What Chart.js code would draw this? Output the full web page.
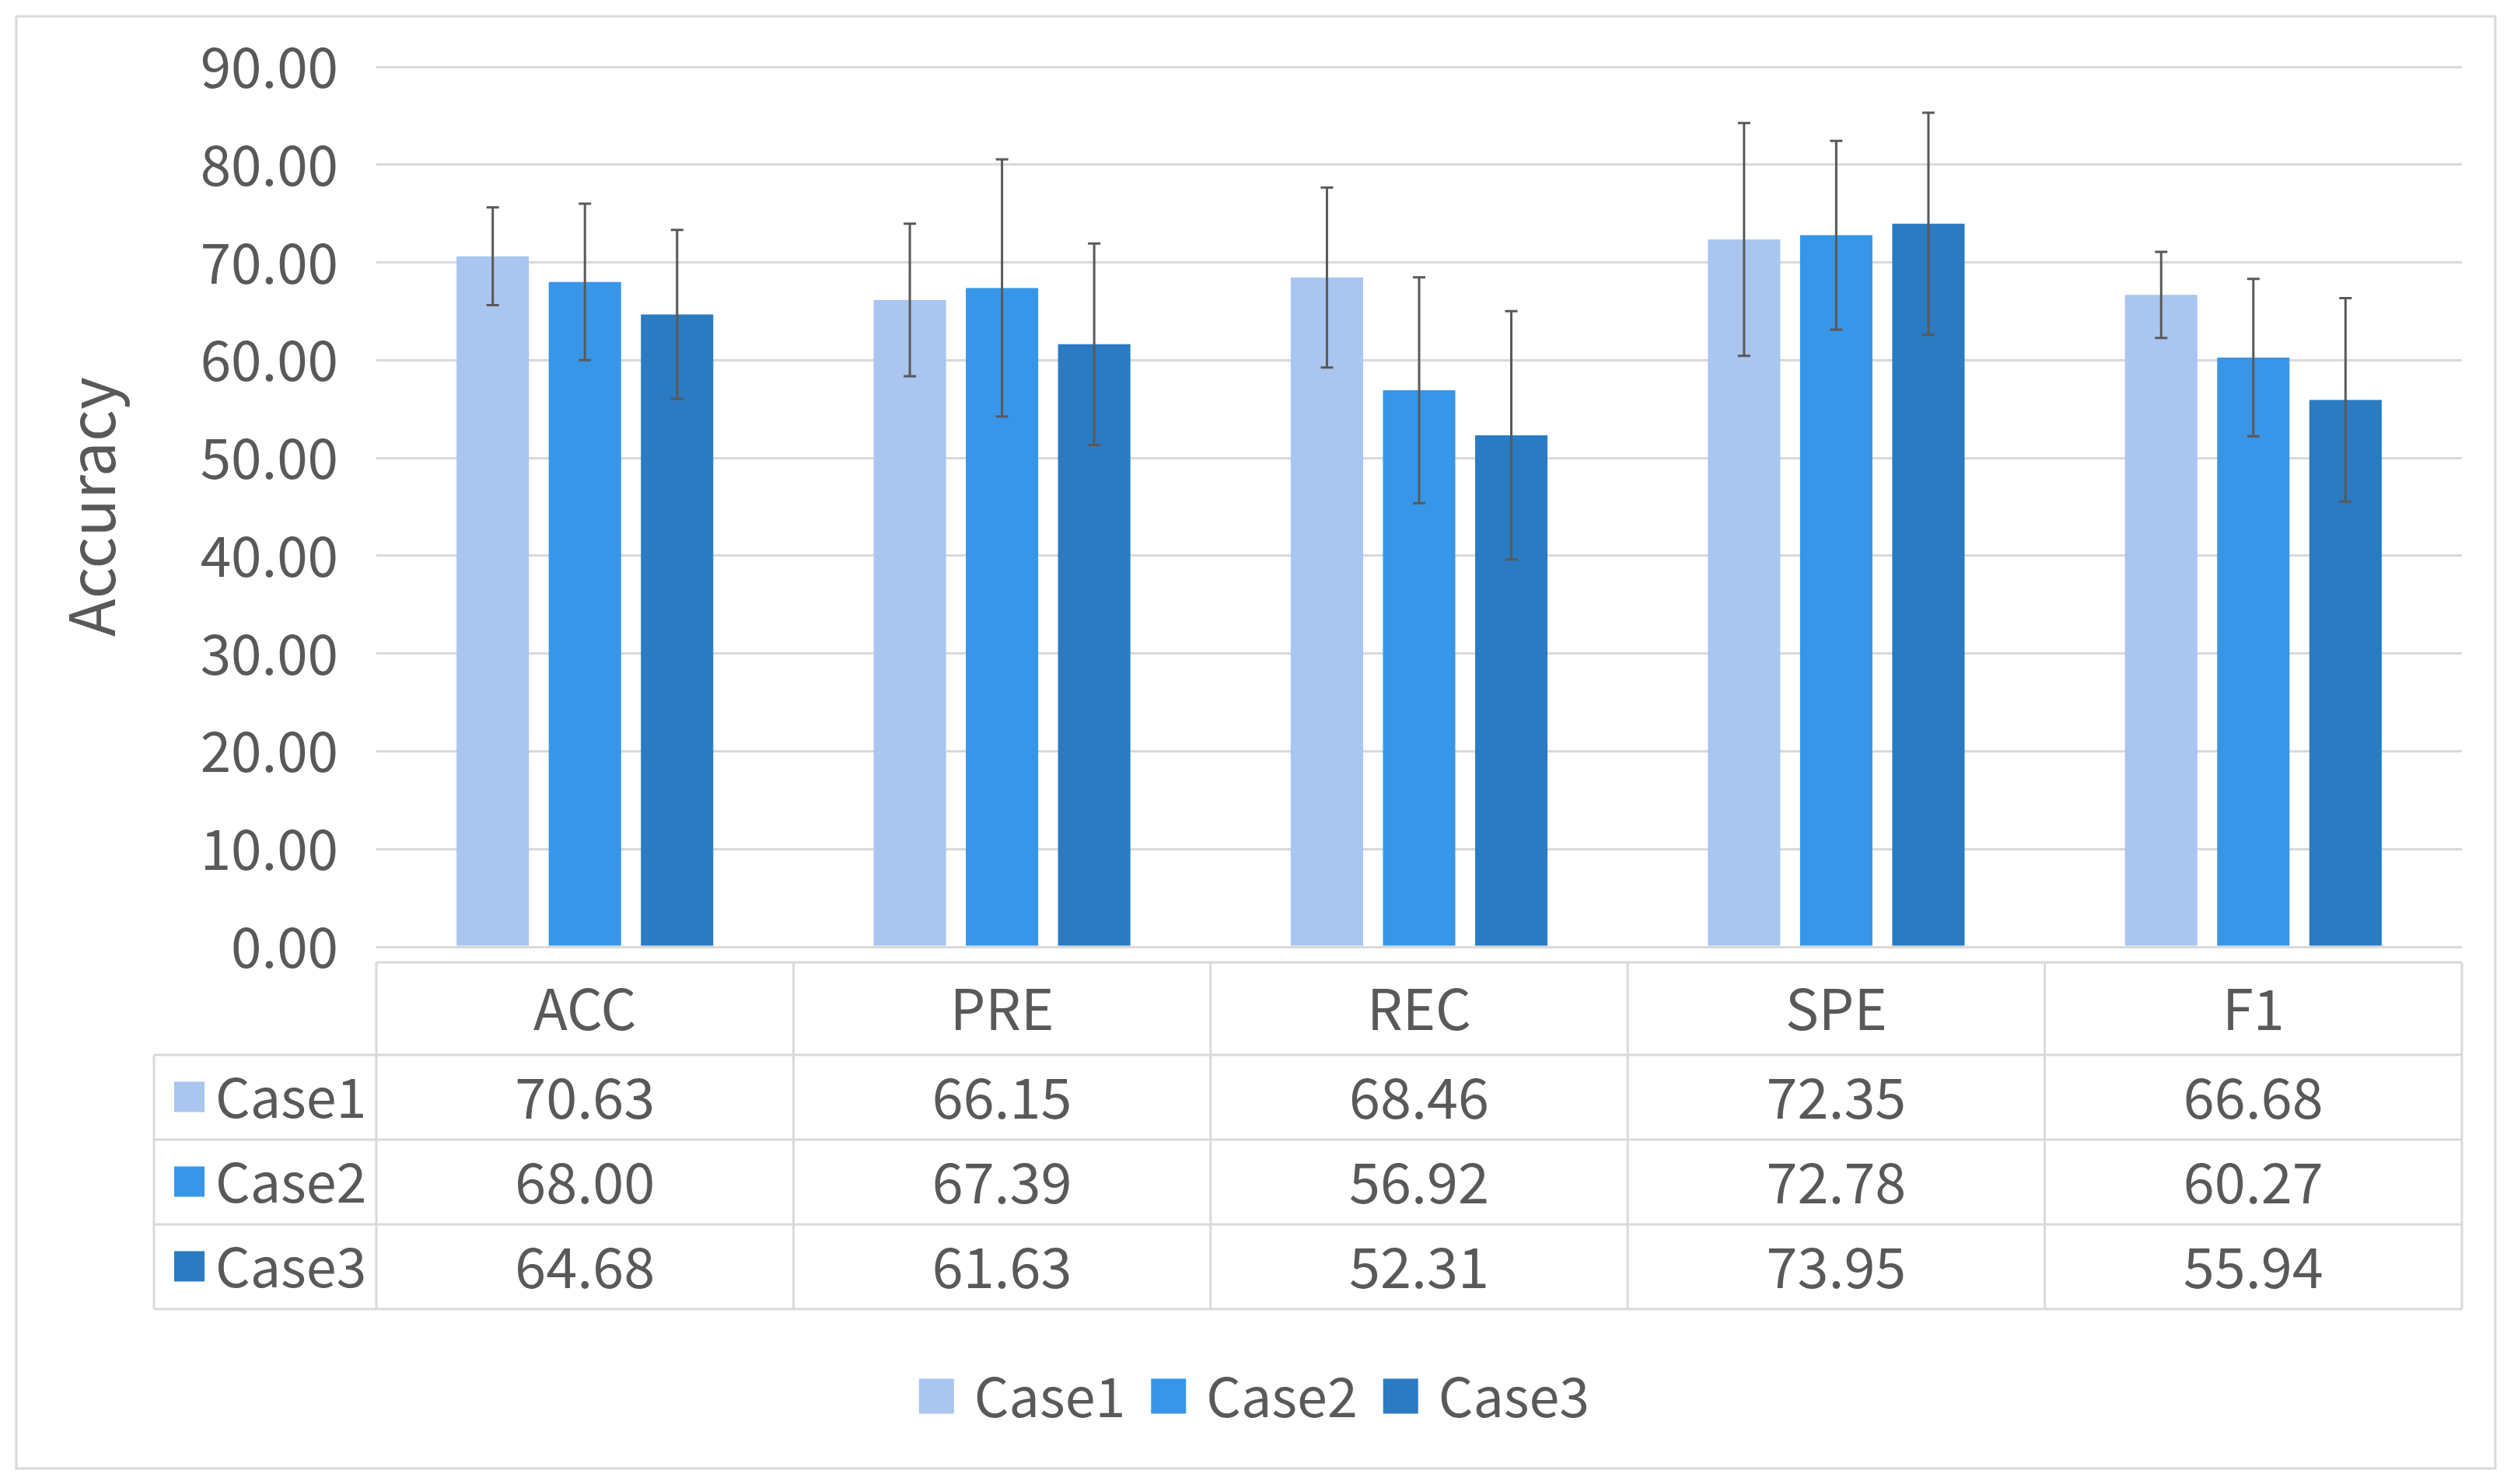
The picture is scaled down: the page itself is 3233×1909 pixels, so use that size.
<!DOCTYPE html>
<html>
<head>
<meta charset="utf-8">
<script src="https://cdn.jsdelivr.net/npm/chart.js@4/dist/chart.umd.min.js"></script>
<style>
  html, body { margin: 0; padding: 0; background: #ffffff; }
  #wrap { width: 3233px; height: 1909px; }
  canvas { display: block; }
</style>
</head>
<body>
<div id="wrap"><canvas id="c" width="3233" height="1909" style="width:3233px;height:1909px"></canvas></div>
<script>
// ---- data ----
const categories = ['ACC', 'PRE', 'REC', 'SPE', 'F1'];
const seriesNames = ['Case1', 'Case2', 'Case3'];
const case1 = [70.63, 66.15, 68.46, 72.35, 66.68];
const case2 = [68.00, 67.39, 56.92, 72.78, 60.27];
const case3 = [64.68, 61.63, 52.31, 73.95, 55.94];
const err1 = [5.0, 7.8, 9.2, 11.9, 4.4];
const err2 = [8.0, 13.15, 11.55, 9.65, 8.05];
const err3 = [8.65, 10.3, 12.7, 11.35, 10.4];
const yTicks = [0, 10, 20, 30, 40, 50, 60, 70, 80, 90];
const yTitle = 'Accuracy';

const colors = ['#A9C5F0', '#3796E8', '#2A7BC2'];
const values = [case1, case2, case3];
const errors = [err1, err2, err3];
const FONT = '"Noto Sans CJK SC", "Open Sans", sans-serif';
const TEXT = '#595959';
const LINE = '#D9D9D9';

const framePlugin = {
  id: 'frame',
  beforeDraw(chart) {
    const ctx = chart.ctx;
    ctx.save();
    ctx.fillStyle = '#ffffff';
    ctx.fillRect(0, 0, chart.width, chart.height);
    ctx.strokeStyle = LINE;
    ctx.lineWidth = 3;
    ctx.strokeRect(21, 21, 3188, 1868);
    ctx.restore();
  }
};

const errorBarPlugin = {
  id: 'errorBars',
  afterDatasetsDraw(chart) {
    const ctx = chart.ctx;
    const ys = chart.scales.y;
    ctx.save();
    ctx.strokeStyle = '#595959';
    ctx.lineWidth = 3;
    chart.data.datasets.forEach((ds, i) => {
      const meta = chart.getDatasetMeta(i);
      meta.data.forEach((el, j) => {
        const v = ds.data[j], e = errors[i][j];
        const yt = ys.getPixelForValue(v + e);
        const yb = ys.getPixelForValue(v - e);
        const x = el.x;
        ctx.beginPath();
        ctx.moveTo(x, yt); ctx.lineTo(x, yb);
        ctx.moveTo(x - 8, yt); ctx.lineTo(x + 8, yt);
        ctx.moveTo(x - 8, yb); ctx.lineTo(x + 8, yb);
        ctx.stroke();
      });
    });
    ctx.restore();
  }
};

const tablePlugin = {
  id: 'dataTable',
  afterDraw(chart) {
    const ctx = chart.ctx;
    const xs = chart.scales.x;
    const area = chart.chartArea;
    const n = categories.length;
    const colW = (area.right - area.left) / n;
    const top = 1238, headBot = 1357, rowH = 109;
    const rowsBot = headBot + rowH * seriesNames.length;
    const labelLeft = 198;
    ctx.save();
    ctx.strokeStyle = LINE;
    ctx.lineWidth = 3;
    ctx.beginPath();
    ctx.moveTo(area.left, top); ctx.lineTo(area.right, top);
    for (let r = 0; r <= seriesNames.length; r++) {
      const y = headBot + r * rowH;
      ctx.moveTo(labelLeft, y); ctx.lineTo(area.right, y);
    }
    for (let c = 0; c <= n; c++) {
      const x = area.left + c * colW;
      ctx.moveTo(x, top); ctx.lineTo(x, rowsBot);
    }
    ctx.moveTo(labelLeft, headBot); ctx.lineTo(labelLeft, rowsBot);
    ctx.stroke();

    ctx.fillStyle = TEXT;
    ctx.font = '72px ' + FONT;
    ctx.textAlign = 'center';
    ctx.textBaseline = 'middle';
    categories.forEach((cat, i) => {
      const cx = xs.getPixelForValue(i);
      ctx.fillText(cat, cx, (top + headBot) / 2);
      values.forEach((arr, r) => {
        ctx.fillText(arr[i].toFixed(2), cx, headBot + r * rowH + rowH / 2);
      });
    });
    ctx.font = '70px ' + FONT;
    seriesNames.forEach((name, r) => {
      const cy = headBot + r * rowH + rowH / 2;
      ctx.fillStyle = colors[r];
      ctx.fillRect(224, cy - 20, 39, 39);
      ctx.fillStyle = TEXT;
      ctx.textAlign = 'left';
      ctx.fillText(name, 277, cy);
    });

    // bottom legend
    ctx.font = '70px ' + FONT;
    const box = 45, gapBT = 26, gapItem = 33;
    const widths = seriesNames.map(s => ctx.measureText(s).width);
    let total = 0;
    widths.forEach((w, i) => { total += box + gapBT + w + (i < widths.length - 1 ? gapItem : 0); });
    let x = 1613 - total / 2;
    const ly = 1796;
    seriesNames.forEach((name, i) => {
      ctx.fillStyle = colors[i];
      ctx.fillRect(x, ly - box / 2, box, box);
      ctx.fillStyle = TEXT;
      ctx.textAlign = 'left';
      ctx.fillText(name, x + box + gapBT, ly);
      x += box + gapBT + widths[i] + gapItem;
    });

    // y-axis title
    ctx.save();
    ctx.translate(118, (area.top + area.bottom) / 2);
    ctx.rotate(-Math.PI / 2);
    ctx.textAlign = 'center';
    ctx.textBaseline = 'middle';
    ctx.font = '80px ' + FONT;
    ctx.fillStyle = TEXT;
    ctx.fillText(yTitle, 0, 0);
    ctx.restore();

    ctx.restore();
  }
};

Chart.defaults.font.family = FONT;
Chart.defaults.color = TEXT;

new Chart(document.getElementById('c'), {
  type: 'bar',
  data: {
    labels: categories,
    datasets: seriesNames.map((name, i) => ({
      label: name,
      data: values[i],
      backgroundColor: colors[i],
      borderWidth: 0,
      barPercentage: 0.785,
      categoryPercentage: 0.663
    }))
  },
  options: {
    responsive: false,
    animation: false,
    devicePixelRatio: 1,
    layout: { padding: { left: 0, top: 86, right: 67, bottom: 691 } },
    plugins: {
      legend: { display: false },
      tooltip: { enabled: false },
      title: { display: false }
    },
    scales: {
      x: { display: false },
      y: {
        min: 0,
        max: 90,
        afterBuildTicks(scale) { scale.ticks = yTicks.map(v => ({ value: v })); },
        afterFit(scale) { scale.width = 484; },
        border: { display: false },
        grid: { color: LINE, lineWidth: 3, drawTicks: true, tickLength: 49, tickColor: 'rgba(0,0,0,0)' },
        ticks: {
          padding: 0,
          color: TEXT,
          font: { size: 71, family: FONT },
          callback: v => Number(v).toFixed(2)
        }
      }
    }
  },
  plugins: [framePlugin, errorBarPlugin, tablePlugin]
});
</script>
</body>
</html>
